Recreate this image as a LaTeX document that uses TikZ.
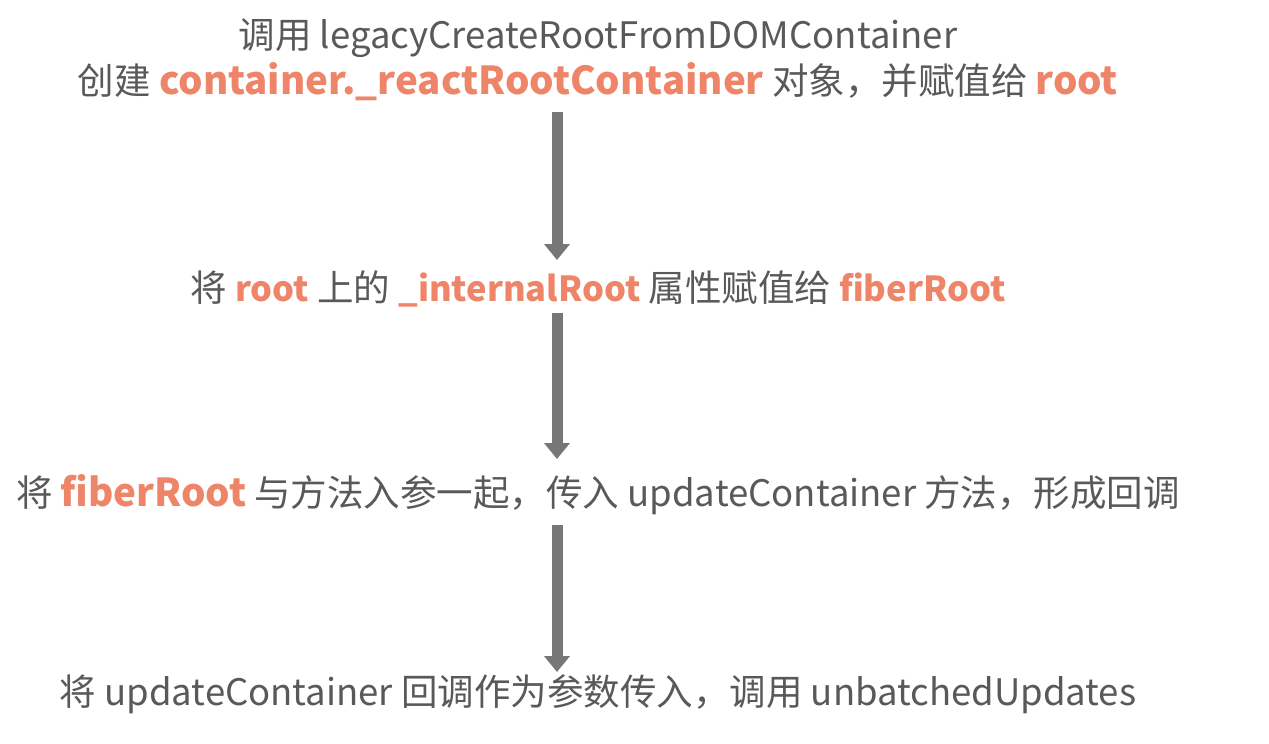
\documentclass[tikz,border=0pt]{standalone}
\usepackage{fontspec}
\newfontfamily\cjk{Noto Sans CJK SC}
\usetikzlibrary{arrows.meta}
\definecolor{textgray}{HTML}{595959}
\definecolor{hlorange}{HTML}{EE8468}
\definecolor{arrowgray}{HTML}{777777}
\newcommand{\hl}[1]{{\color{hlorange}\bfseries\fontsize{34.5}{40}\selectfont #1}}
\newcommand{\hlbig}[1]{{\color{hlorange}\bfseries\fontsize{38.5}{44}\selectfont #1}}
\begin{document}
\begin{tikzpicture} [x=1pt, y=-1pt, step text/.style={text=textgray, font=\cjk\fontsize{36.5}{40}\selectfont, inner sep=0pt, anchor=center},
flow arrow/.style={-{Triangle[width=25pt,length=16pt]}, arrowgray, line width=11pt}]

\useasboundingbox (0,0) rectangle (1269,744);

%text of the steps, all centred on x = 598
\node[step text] (s1a) at (598,38) {调用 legacyCreateRootFromDOMContainer};
\node[step text] (s1b) at (598,82) {创建 \hlbig{container.\_reactRootContainer} 对象，并赋值给 \hlbig{root}};
\node[step text] (s2)  at (598,289) {将 \hl{root} 上的 \hl{\_internalRoot} 属性赋值给 \hl{fiberRoot}};
\node[step text] (s3)  at (598,495) {将 \hlbig{fiberRoot} 与方法入参一起，传入 updateContainer 方法，形成回调};
\node[step text] (s4)  at (598,694) {将 updateContainer 回调作为参数传入，调用 unbatchedUpdates};

%arrow ends
\coordinate (a1s) at (557,112);
\coordinate (a1e) at (557,260);
\coordinate (a2s) at (557,313);
\coordinate (a2e) at (557,459);
\coordinate (a3s) at (557,525);
\coordinate (a3e) at (557,672);

\draw[flow arrow] (a1s) -- (a1e);
\draw[flow arrow] (a2s) -- (a2e);
\draw[flow arrow] (a3s) -- (a3e);

\end{tikzpicture}
\end{document}
